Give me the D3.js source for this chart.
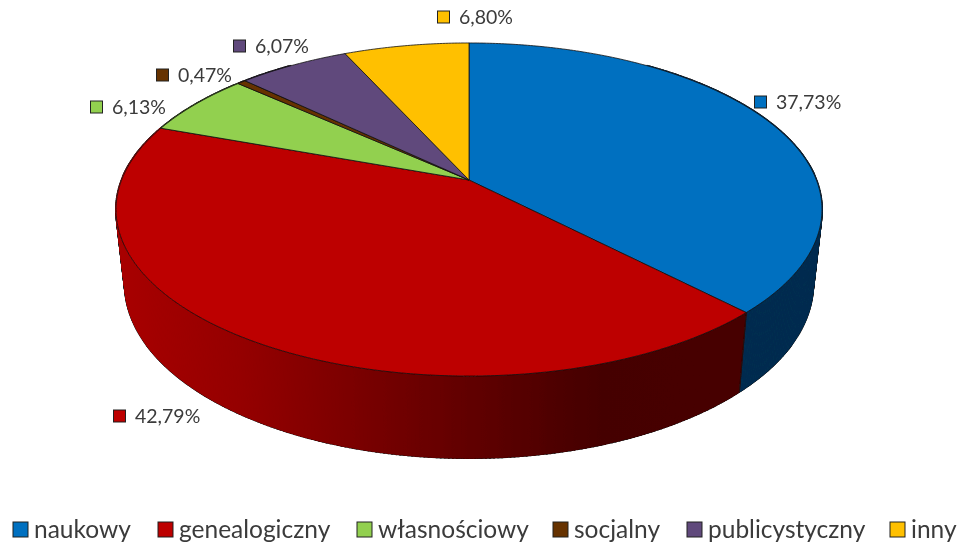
<!DOCTYPE html>
<html>
<head>
<meta charset="utf-8">
<script src="https://cdn.jsdelivr.net/npm/d3@7"></script>
<style>
  html, body { margin: 0; padding: 0; background: #fff; }
  svg { display: block; }
  text { font-family: Lato, sans-serif; fill: #3a3a3a; }
</style>
</head>
<body>
<svg id="chart" width="959" height="545"></svg>
<script>
// Values
var categories = ['naukowy', 'genealogiczny', 'własnościowy', 'socjalny', 'publicystyczny', 'inny'];
var shares = [37.73, 42.79, 6.13, 0.47, 6.07, 6.80];
var colors = ['#0070c0', '#bd0000', '#92d050', '#663300', '#604a7b', '#ffc000'];
var wallColors = ['#002d50', 'url(#redWall)', '#3a5520', '#2a1500', '#281e33', '#664d00'];

// Layout
var cx = 469, cy = 180;
var a = 347.4, b = 161.3, k = 0.1772;   // perspective of the top disc
var drop = 73.2, sx = 0.975, sy = 1.045; // bottom disc relative to the top
var legendX = [12, 157, 356, 552, 686, 889];
var labelPos = [[754, 102], [113, 416], [90, 107], [156, 75], [233, 46], [437, 17]];

var svg = d3.select('#chart');
var defs = svg.append('defs');

var grad = defs.append('linearGradient')
    .attr('id', 'redWall')
    .attr('gradientUnits', 'userSpaceOnUse')
    .attr('x1', 118).attr('x2', 745).attr('y1', 0).attr('y2', 0);
[[0, '#a80000'], [0.195, '#950000'], [0.45, '#700000'], [0.64, '#560000'], [0.77, '#450000'], [1, '#470000']]
  .forEach(function(s) {
    grad.append('stop').attr('offset', s[0]).attr('stop-color', s[1]);
  });

defs.append('filter').attr('id', 'soft')
  .append('feGaussianBlur').attr('stdDeviation', 0.45);

// angle -> screen, angle 0 is straight up, clockwise
function topPoint(t) {
  var u = Math.sin(t), v = -Math.cos(t), w = 1 - k * v;
  return [cx + a * u / w, cy + b * v / w];
}
function bottomPoint(t) {
  var u = Math.sin(t), v = -Math.cos(t), w = 1 - k * v;
  return [cx + sx * a * u / w, cy + drop + sy * b * v / w];
}

function rim(fn, t0, t1) {
  var n = Math.max(2, Math.ceil((t1 - t0) / 0.01));
  return d3.range(n + 1).map(function(i) { return fn(t0 + (t1 - t0) * i / n); });
}

var line = d3.line();
var pie = d3.pie().sort(null)(shares);
var chart = svg.append('g').attr('filter', 'url(#soft)');

// Side wall as thin strips so the silhouette stays filled where the rims fold.
var strips = [];
pie.forEach(function(d, i) {
  var t0 = Math.max(d.startAngle, Math.PI * 0.2);
  var t1 = Math.min(d.endAngle, Math.PI * 1.8);
  if (t1 <= t0) return;
  var ts = d3.range(Math.ceil((t1 - t0) / 0.01) + 1).map(function(j, _, arr) {
    return t0 + (t1 - t0) * j / (arr.length - 1);
  });
  d3.pairs(ts).forEach(function(p) {
    strips.push({
      index: i,
      d: line([topPoint(p[0]), topPoint(p[1]), bottomPoint(p[1]), bottomPoint(p[0])]) + 'Z'
    });
  });
});

// dark pass first, it leaves the thin outline round the wall
chart.append('g').selectAll('path')
    .data(strips)
    .enter().append('path')
    .attr('d', function(d) { return d.d; })
    .attr('fill', '#111')
    .attr('stroke', '#111')
    .attr('stroke-width', 1.9);

chart.append('g').selectAll('path')
    .data(strips)
    .enter().append('path')
    .attr('d', function(d) { return d.d; })
    .attr('fill', function(d) { return wallColors[d.index]; })
    .attr('stroke', function(d) { return wallColors[d.index]; })
    .attr('stroke-width', 1.2);

// edge between the two visible walls
chart.append('path')
    .attr('d', line([topPoint(pie[1].startAngle), bottomPoint(pie[1].startAngle)]))
    .attr('fill', 'none')
    .attr('stroke', '#111')
    .attr('stroke-width', 0.7);

// Top of the disc
pie.forEach(function(d, i) {
  var pts = [[cx, cy]].concat(rim(topPoint, d.startAngle, d.endAngle));
  chart.append('path')
      .attr('d', line(pts) + 'Z')
      .attr('fill', colors[i])
      .attr('stroke', '#111')
      .attr('stroke-width', 0.8)
      .attr('stroke-linejoin', 'round');
});

// Data labels
var labels = svg.append('g').attr('filter', 'url(#soft)').selectAll('g')
    .data(shares)
    .enter().append('g')
    .attr('transform', function(d, i) { return 'translate(' + labelPos[i][0] + ',' + labelPos[i][1] + ')'; });
labels.append('rect')
    .attr('x', 0.5).attr('y', -6)
    .attr('width', 12).attr('height', 12)
    .attr('fill', function(d, i) { return colors[i]; })
    .attr('stroke', '#222');
labels.append('text')
    .attr('x', 22)
    .attr('dy', '0.36em')
    .attr('font-size', 19.5)
    .text(function(d) { return d.toFixed(2).replace('.', ',') + '%'; });

// Legend
var legend = svg.append('g').attr('filter', 'url(#soft)').selectAll('g')
    .data(categories)
    .enter().append('g')
    .attr('transform', function(d, i) { return 'translate(' + legendX[i] + ',530)'; });
legend.append('rect')
    .attr('x', 1).attr('y', -8)
    .attr('width', 15).attr('height', 15)
    .attr('fill', function(d, i) { return colors[i]; })
    .attr('stroke', '#222');
legend.append('text')
    .attr('x', 22)
    .attr('dy', '0.34em')
    .attr('font-size', 24.5)
    .text(function(d) { return d; });
</script>
</body>
</html>
